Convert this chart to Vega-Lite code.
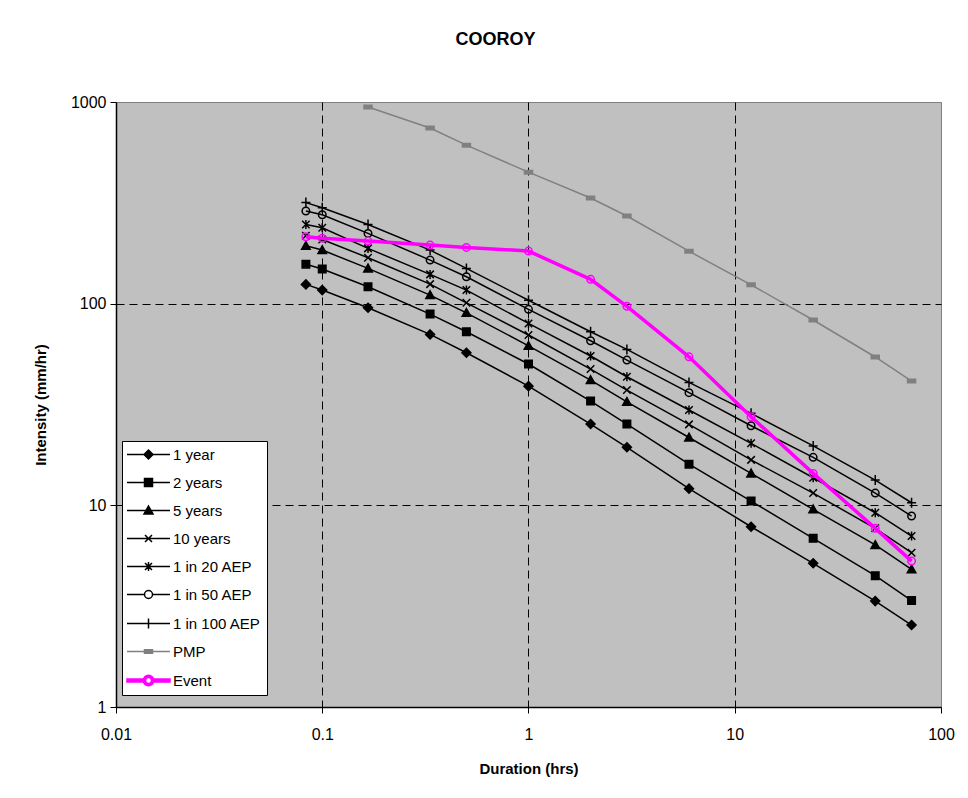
{
  "$schema": "https://vega.github.io/schema/vega-lite/v6.json",
  "width": 825,
  "height": 605,
  "autosize": {"type": "none"},
  "padding": {"left": 116, "top": 102, "right": 27, "bottom": 91},
  "background": "white",
  "title": {"text": "COOROY", "fontSize": 18, "fontWeight": "bold", "anchor": "middle", "offset": 45, "dx": -33, "color": "black"},
  "data": {"values": [
    {"series": "1 year", "duration": 0.0833, "intensity": 124.6},
    {"series": "1 year", "duration": 0.1, "intensity": 116.8},
    {"series": "1 year", "duration": 0.1667, "intensity": 95.5},
    {"series": "1 year", "duration": 0.3333, "intensity": 70.4},
    {"series": "1 year", "duration": 0.5, "intensity": 57.1},
    {"series": "1 year", "duration": 1, "intensity": 39},
    {"series": "1 year", "duration": 2, "intensity": 25.3},
    {"series": "1 year", "duration": 3, "intensity": 19.4},
    {"series": "1 year", "duration": 6, "intensity": 12.1},
    {"series": "1 year", "duration": 12, "intensity": 7.83},
    {"series": "1 year", "duration": 24, "intensity": 5.16},
    {"series": "1 year", "duration": 48, "intensity": 3.35},
    {"series": "1 year", "duration": 72, "intensity": 2.55},
    {"series": "2 years", "duration": 0.0833, "intensity": 157},
    {"series": "2 years", "duration": 0.1, "intensity": 148.5},
    {"series": "2 years", "duration": 0.1667, "intensity": 121.3},
    {"series": "2 years", "duration": 0.3333, "intensity": 88.8},
    {"series": "2 years", "duration": 0.5, "intensity": 72.6},
    {"series": "2 years", "duration": 1, "intensity": 50.2},
    {"series": "2 years", "duration": 2, "intensity": 32.9},
    {"series": "2 years", "duration": 3, "intensity": 25.3},
    {"series": "2 years", "duration": 6, "intensity": 16},
    {"series": "2 years", "duration": 12, "intensity": 10.5},
    {"series": "2 years", "duration": 24, "intensity": 6.86},
    {"series": "2 years", "duration": 48, "intensity": 4.48},
    {"series": "2 years", "duration": 72, "intensity": 3.37},
    {"series": "5 years", "duration": 0.0833, "intensity": 193.7},
    {"series": "5 years", "duration": 0.1, "intensity": 184.4},
    {"series": "5 years", "duration": 0.1667, "intensity": 149.6},
    {"series": "5 years", "duration": 0.3333, "intensity": 110.3},
    {"series": "5 years", "duration": 0.5, "intensity": 90.1},
    {"series": "5 years", "duration": 1, "intensity": 61.8},
    {"series": "5 years", "duration": 2, "intensity": 41.8},
    {"series": "5 years", "duration": 3, "intensity": 32.6},
    {"series": "5 years", "duration": 6, "intensity": 21.7},
    {"series": "5 years", "duration": 12, "intensity": 14.4},
    {"series": "5 years", "duration": 24, "intensity": 9.55},
    {"series": "5 years", "duration": 48, "intensity": 6.36},
    {"series": "5 years", "duration": 72, "intensity": 4.82},
    {"series": "10 years", "duration": 0.0833, "intensity": 217},
    {"series": "10 years", "duration": 0.1, "intensity": 208},
    {"series": "10 years", "duration": 0.1667, "intensity": 169},
    {"series": "10 years", "duration": 0.3333, "intensity": 125},
    {"series": "10 years", "duration": 0.5, "intensity": 101},
    {"series": "10 years", "duration": 1, "intensity": 69.9},
    {"series": "10 years", "duration": 2, "intensity": 47.4},
    {"series": "10 years", "duration": 3, "intensity": 37.3},
    {"series": "10 years", "duration": 6, "intensity": 25.2},
    {"series": "10 years", "duration": 12, "intensity": 16.8},
    {"series": "10 years", "duration": 24, "intensity": 11.5},
    {"series": "10 years", "duration": 48, "intensity": 7.69},
    {"series": "10 years", "duration": 72, "intensity": 5.82},
    {"series": "1 in 20 AEP", "duration": 0.0833, "intensity": 247},
    {"series": "1 in 20 AEP", "duration": 0.1, "intensity": 237.8},
    {"series": "1 in 20 AEP", "duration": 0.1667, "intensity": 188},
    {"series": "1 in 20 AEP", "duration": 0.3333, "intensity": 139.7},
    {"series": "1 in 20 AEP", "duration": 0.5, "intensity": 116.8},
    {"series": "1 in 20 AEP", "duration": 1, "intensity": 79.8},
    {"series": "1 in 20 AEP", "duration": 2, "intensity": 55},
    {"series": "1 in 20 AEP", "duration": 3, "intensity": 43.4},
    {"series": "1 in 20 AEP", "duration": 6, "intensity": 29.7},
    {"series": "1 in 20 AEP", "duration": 12, "intensity": 20.3},
    {"series": "1 in 20 AEP", "duration": 24, "intensity": 13.7},
    {"series": "1 in 20 AEP", "duration": 48, "intensity": 9.19},
    {"series": "1 in 20 AEP", "duration": 72, "intensity": 7.04},
    {"series": "1 in 50 AEP", "duration": 0.0833, "intensity": 288},
    {"series": "1 in 50 AEP", "duration": 0.1, "intensity": 276},
    {"series": "1 in 50 AEP", "duration": 0.1667, "intensity": 223},
    {"series": "1 in 50 AEP", "duration": 0.3333, "intensity": 164.5},
    {"series": "1 in 50 AEP", "duration": 0.5, "intensity": 136},
    {"series": "1 in 50 AEP", "duration": 1, "intensity": 93.7},
    {"series": "1 in 50 AEP", "duration": 2, "intensity": 65.5},
    {"series": "1 in 50 AEP", "duration": 3, "intensity": 52.5},
    {"series": "1 in 50 AEP", "duration": 6, "intensity": 36.2},
    {"series": "1 in 50 AEP", "duration": 12, "intensity": 24.8},
    {"series": "1 in 50 AEP", "duration": 24, "intensity": 17.3},
    {"series": "1 in 50 AEP", "duration": 48, "intensity": 11.5},
    {"series": "1 in 50 AEP", "duration": 72, "intensity": 8.85},
    {"series": "1 in 100 AEP", "duration": 0.0833, "intensity": 317},
    {"series": "1 in 100 AEP", "duration": 0.1, "intensity": 299},
    {"series": "1 in 100 AEP", "duration": 0.1667, "intensity": 247},
    {"series": "1 in 100 AEP", "duration": 0.3333, "intensity": 184.4},
    {"series": "1 in 100 AEP", "duration": 0.5, "intensity": 149.6},
    {"series": "1 in 100 AEP", "duration": 1, "intensity": 104},
    {"series": "1 in 100 AEP", "duration": 2, "intensity": 72.6},
    {"series": "1 in 100 AEP", "duration": 3, "intensity": 59.3},
    {"series": "1 in 100 AEP", "duration": 6, "intensity": 40.7},
    {"series": "1 in 100 AEP", "duration": 12, "intensity": 28.6},
    {"series": "1 in 100 AEP", "duration": 24, "intensity": 19.7},
    {"series": "1 in 100 AEP", "duration": 48, "intensity": 13.35},
    {"series": "1 in 100 AEP", "duration": 72, "intensity": 10.3},
    {"series": "PMP", "duration": 0.1667, "intensity": 944},
    {"series": "PMP", "duration": 0.3333, "intensity": 743},
    {"series": "PMP", "duration": 0.5, "intensity": 611},
    {"series": "PMP", "duration": 1, "intensity": 449},
    {"series": "PMP", "duration": 2, "intensity": 334},
    {"series": "PMP", "duration": 3, "intensity": 272},
    {"series": "PMP", "duration": 6, "intensity": 182},
    {"series": "PMP", "duration": 12, "intensity": 124},
    {"series": "PMP", "duration": 24, "intensity": 83},
    {"series": "PMP", "duration": 48, "intensity": 54.4},
    {"series": "PMP", "duration": 72, "intensity": 41.3},
    {"series": "Event", "duration": 0.0833, "intensity": 214.6},
    {"series": "Event", "duration": 0.1, "intensity": 210.8},
    {"series": "Event", "duration": 0.1667, "intensity": 204.3},
    {"series": "Event", "duration": 0.3333, "intensity": 195.2},
    {"series": "Event", "duration": 0.5, "intensity": 190.1},
    {"series": "Event", "duration": 1, "intensity": 182.3},
    {"series": "Event", "duration": 2, "intensity": 132},
    {"series": "Event", "duration": 3, "intensity": 97},
    {"series": "Event", "duration": 6, "intensity": 54.5},
    {"series": "Event", "duration": 12, "intensity": 27.5},
    {"series": "Event", "duration": 24, "intensity": 14.4},
    {"series": "Event", "duration": 48, "intensity": 7.69},
    {"series": "Event", "duration": 72, "intensity": 5.29}
  ]},
  "encoding": {
    "x": {"field": "duration", "type": "quantitative",
      "scale": {"type": "log", "domain": [0.01, 100], "nice": false},
      "axis": {"title": "Duration (hrs)", "values": [0.01, 0.1, 1, 10, 100], "format": "~g",
        "grid": true, "gridColor": "black", "gridDash": [8, 5], "gridWidth": 1,
        "gridOpacity": {"condition": {"test": "datum.value < 0.011 || datum.value > 99", "value": 0}, "value": 1},
        "labelFontSize": 16, "labelPadding": 13, "labelFlush": false, "labelOverlap": false,
        "titleFontSize": 15, "titleFontWeight": "bold", "titlePadding": 19}},
    "y": {"field": "intensity", "type": "quantitative",
      "scale": {"type": "log", "domain": [1, 1000], "nice": false},
      "axis": {"title": "Intensity (mm/hr)", "values": [1, 10, 100, 1000], "format": "d",
        "grid": true, "gridColor": "black", "gridDash": [8, 5], "gridWidth": 1,
        "gridOpacity": {"condition": {"test": "datum.value < 1.1 || datum.value > 990", "value": 0}, "value": 1},
        "labelFontSize": 16, "labelPadding": 4, "labelFlush": false, "labelOverlap": false,
        "titleFontSize": 15, "titleFontWeight": "bold", "titlePadding": 22}}
  },
  "resolve": {"scale": {"shape": "independent", "fill": "independent", "stroke": "independent"}},
  "layer": [
    {
      "transform": [{"filter": "datum.series !== 'Event'"}],
      "mark": {"type": "line", "strokeWidth": 1.5},
      "encoding": {
        "stroke": {"field": "series", "type": "nominal", "legend": null,
          "scale": {"domain": ["1 year", "2 years", "5 years", "10 years", "1 in 20 AEP", "1 in 50 AEP", "1 in 100 AEP", "PMP"],
            "range": ["black", "black", "black", "black", "black", "black", "black", "#808080"]}}
      }
    },
    {
      "transform": [{"filter": "datum.series !== 'Event'"}],
      "mark": {"type": "point", "size": 100, "strokeWidth": 1.5, "opacity": 1},
      "encoding": {
        "stroke": {"field": "series", "type": "nominal", "legend": null,
          "scale": {"domain": ["1 year", "2 years", "5 years", "10 years", "1 in 20 AEP", "1 in 50 AEP", "1 in 100 AEP", "PMP"],
            "range": ["black", "black", "black", "black", "black", "black", "black", "#808080"]}},
        "fill": {"field": "series", "type": "nominal", "legend": null,
          "scale": {"domain": ["1 year", "2 years", "5 years", "10 years", "1 in 20 AEP", "1 in 50 AEP", "1 in 100 AEP", "PMP"],
            "range": ["black", "black", "black", "transparent", "transparent", "transparent", "transparent", "#808080"]}},
        "shape": {"field": "series", "type": "nominal", "legend": null,
          "scale": {"domain": ["1 year", "2 years", "5 years", "10 years", "1 in 20 AEP", "1 in 50 AEP", "1 in 100 AEP", "PMP"],
            "range": [
              "M0,-0.9L0.9,0L0,0.9L-0.9,0Z",
              "M-0.75,-0.75L0.75,-0.75L0.75,0.75L-0.75,0.75Z",
              "M0,-0.85L0.85,0.7L-0.85,0.7Z",
              "M-0.75,-0.75L0.75,0.75M0.75,-0.75L-0.75,0.75",
              "M-0.75,-0.75L0.75,0.75M0.75,-0.75L-0.75,0.75M0,-0.9L0,0.9",
              "M0.75,0A0.75,0.75 0 1,1 -0.75,0A0.75,0.75 0 1,1 0.75,0Z",
              "M-0.9,0L0.9,0M0,-1L0,1",
              "M-0.8,-0.35L0.8,-0.35L0.8,0.35L-0.8,0.35Z"
            ]}}
      }
    },
    {
      "transform": [{"filter": "datum.series === 'Event'"}],
      "mark": {"type": "line", "strokeWidth": 3.5, "color": "#FF00FF"},
      "encoding": {}
    },
    {
      "transform": [{"filter": "datum.series === 'Event'"}],
      "mark": {"type": "point", "size": 100, "strokeWidth": 1.5, "opacity": 1, "filled": false, "color": "#FF00FF",
        "shape": "M0.75,0A0.75,0.75 0 1,1 -0.75,0A0.75,0.75 0 1,1 0.75,0Z"},
      "encoding": {}
    },
    {
      "transform": [{"filter": "false"}],
      "mark": {"type": "point", "size": 100, "strokeWidth": 1.5, "opacity": 1},
      "encoding": {
        "stroke": {"field": "series", "type": "nominal", "legend": {"title": null},
          "scale": {"domain": ["1 year", "2 years", "5 years", "10 years", "1 in 20 AEP", "1 in 50 AEP", "1 in 100 AEP", "PMP", "Event"],
            "range": ["black", "black", "black", "black", "black", "black", "black", "#808080", "#FF00FF"]}},
        "fill": {"field": "series", "type": "nominal", "legend": {"title": null},
          "scale": {"domain": ["1 year", "2 years", "5 years", "10 years", "1 in 20 AEP", "1 in 50 AEP", "1 in 100 AEP", "PMP", "Event"],
            "range": ["black", "black", "black", "transparent", "transparent", "transparent", "transparent", "#808080", "#FF00FF"]}},
        "shape": {"field": "series", "type": "nominal", "legend": {"title": null},
          "scale": {"domain": ["1 year", "2 years", "5 years", "10 years", "1 in 20 AEP", "1 in 50 AEP", "1 in 100 AEP", "PMP", "Event"],
            "range": [
              "M-4.3,0L4.3,0M0,-0.9L0.9,0L0,0.9L-0.9,0Z",
              "M-4.3,0L4.3,0M-0.8,-0.8L0.8,-0.8L0.8,0.8L-0.8,0.8Z",
              "M-4.3,0L4.3,0M0,-0.9L0.9,0.7L-0.9,0.7Z",
              "M-4.3,0L4.3,0M-0.7,-0.7L0.7,0.7M0.7,-0.7L-0.7,0.7",
              "M-4.3,0L4.3,0M-0.7,-0.7L0.7,0.7M0.7,-0.7L-0.7,0.7M0,-0.9L0,0.9",
              "M-4.3,0L-0.8,0M0.8,0L4.3,0M0.8,0A0.8,0.8 0 1,1 -0.8,0A0.8,0.8 0 1,1 0.8,0Z",
              "M-4.3,0L4.3,0M0,-1L0,1",
              "M-4.3,0L4.3,0M-0.8,-0.35L0.8,-0.35L0.8,0.35L-0.8,0.35Z",
              "M-4.3,-0.3L-0.85,-0.3L-0.85,0.3L-4.3,0.3ZM0.85,-0.3L4.3,-0.3L4.3,0.3L0.85,0.3ZM1.05,0A1.05,1.05 0 1,1 -1.05,0A1.05,1.05 0 1,1 1.05,0ZM0.6,0A0.6,0.6 0 1,0 -0.6,0A0.6,0.6 0 1,0 0.6,0Z"
            ]}}
      }
    }
  ],
  "config": {
    "font": "Liberation Sans",
    "view": {"fill": "#C0C0C0", "stroke": "#808080", "strokeWidth": 1},
    "axis": {"domainColor": "black", "domainWidth": 1.5, "tickColor": "black", "tickSize": 6, "tickWidth": 1, "labelColor": "black", "titleColor": "black"},
    "legend": {
      "orient": "none", "legendX": 6, "legendY": 339,
      "fillColor": "white", "strokeColor": "black", "padding": 6,
      "symbolSize": 100, "symbolOffset": 13, "labelOffset": 17,
      "labelFontSize": 15, "labelColor": "black", "rowPadding": 12
    }
  }
}
